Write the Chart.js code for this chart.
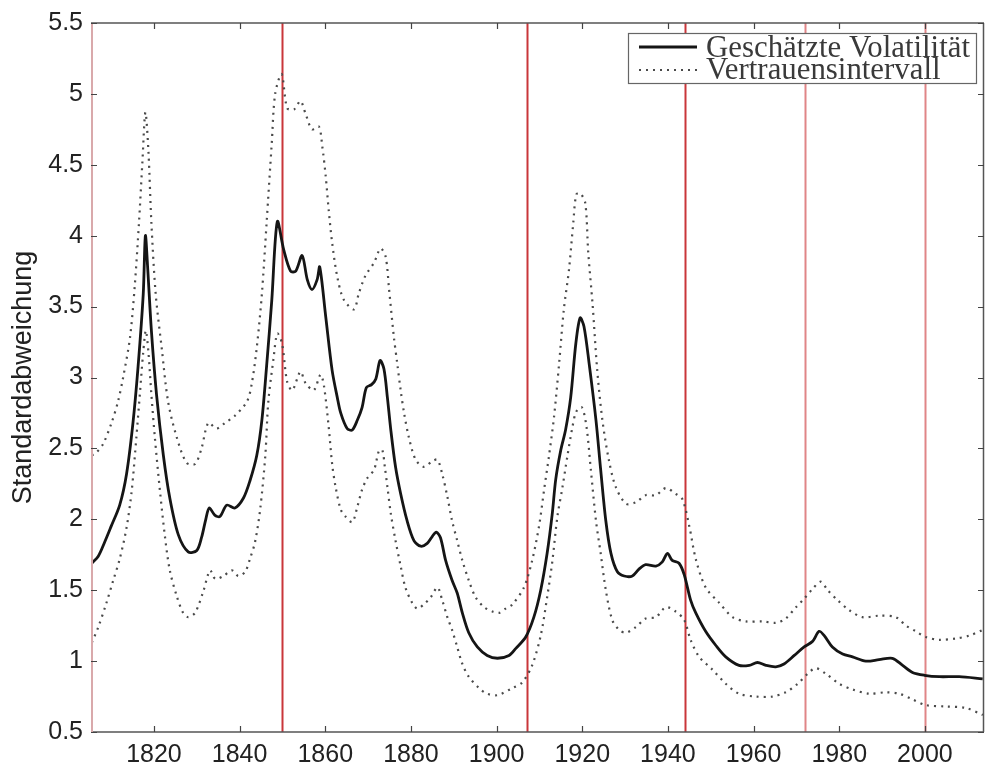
<!DOCTYPE html>
<html>
<head>
<meta charset="utf-8">
<script src="https://cdn.jsdelivr.net/npm/chart.js@4"></script>
<style>
  html, body { margin: 0; padding: 0; background: #fff; }
  #wrap { width: 985px; height: 767px; position: relative; }
</style>
</head>
<body>
<div id="wrap"><canvas id="c"></canvas></div>
<script>
// ---------------- DATA ----------------
const seriesLabels = ["Geschätzte Volatilität", "Vertrauensintervall"];
const yAxisTitle = "Standardabweichung";

const volYears = [1805.5,1807,1808.5,1810,1812,1813.6,1815.1,1816.3,1817.5,1818.0,1818.5,1819.4,1820.6,1822.2,1823.7,1825.7,1828,1830,1831.1,1832.1,1832.9,1834.2,1835.4,1837,1838.9,1840.9,1842.4,1844,1845.2,1846.3,1847.5,1848.8,1850.3,1851.9,1853.1,1854.6,1855.8,1856.9,1858.1,1858.7,1860.1,1861.6,1862.8,1863.6,1865.1,1866.3,1867.5,1868.6,1869.6,1870.8,1871.8,1872.8,1873.7,1874.5,1875.3,1876.4,1877.6,1879.1,1880.7,1882.3,1883.8,1885,1885.9,1886.9,1888.1,1889.6,1890.8,1892,1893.5,1895.5,1897.8,1900.2,1902.9,1904.5,1906.8,1908.7,1910.3,1911.8,1913,1913.8,1915,1916.1,1917.3,1918.5,1919.5,1920.4,1921.6,1923.2,1924.3,1925.5,1926.7,1928.2,1929.8,1931.7,1933.3,1934.8,1937.2,1938.7,1939.9,1941,1942.6,1943.8,1945.3,1946.5,1948.8,1951.2,1953.5,1956.6,1959,1960.9,1962.9,1965.2,1967.1,1969.5,1971.8,1973.8,1975.3,1976.5,1978.4,1980.8,1983.1,1986.2,1989.3,1992.4,1994.8,1997.1,1999.9,2003.4,2008,2013.5];
const volValues = [1.69,1.74,1.84,1.95,2.10,2.32,2.68,3.08,3.59,4.00,3.79,3.33,2.88,2.45,2.15,1.89,1.77,1.78,1.87,2.00,2.08,2.03,2.02,2.10,2.08,2.15,2.27,2.45,2.70,3.08,3.54,4.10,3.90,3.75,3.75,3.86,3.69,3.62,3.69,3.78,3.43,3.05,2.86,2.75,2.64,2.63,2.70,2.79,2.93,2.95,2.99,3.12,3.06,2.86,2.63,2.37,2.18,1.99,1.85,1.81,1.83,1.88,1.91,1.87,1.71,1.57,1.48,1.34,1.20,1.10,1.04,1.02,1.04,1.09,1.17,1.31,1.50,1.76,2.04,2.28,2.49,2.63,2.86,3.24,3.42,3.36,3.10,2.70,2.35,1.99,1.76,1.63,1.60,1.60,1.65,1.68,1.67,1.70,1.76,1.71,1.69,1.61,1.43,1.34,1.21,1.11,1.03,0.97,0.97,0.99,0.97,0.96,0.98,1.04,1.10,1.14,1.21,1.18,1.10,1.05,1.03,1.00,1.01,1.02,0.97,0.92,0.90,0.89,0.89,0.875];

const upperYears = [1805.5,1806.5,1808.1,1810.1,1811.6,1812.8,1814.4,1815.5,1816.5,1817.3,1818,1818.7,1819.4,1820.4,1821.8,1823.3,1825.3,1827.6,1829.6,1831.1,1832.7,1834.6,1836.6,1838.9,1841.7,1842.8,1844,1845.2,1846.3,1847.5,1848.3,1849.8,1851.1,1852.7,1854.2,1855.4,1856.9,1858.5,1859.3,1860.1,1860.8,1861.6,1862.8,1864.3,1866.7,1867.8,1869.4,1871.4,1872.9,1874.1,1874.9,1876,1876.8,1877.6,1878.4,1879.5,1881.1,1883,1885,1886.2,1887.3,1888.5,1889.6,1890.8,1892,1893.5,1895.1,1897.1,1899,1900.6,1902.1,1903.7,1906.4,1908.3,1909.9,1911.1,1912.2,1913.4,1914.6,1915.7,1916.9,1917.9,1918.6,1919.5,1920.7,1921.4,1922.4,1923.5,1924.7,1926.2,1927.8,1930.2,1932.5,1934.8,1937.2,1939.5,1941.8,1943.4,1945,1946.5,1948.8,1952,1955.1,1958.2,1962.1,1965.2,1967.5,1969.9,1971.8,1973.8,1975.7,1977.3,1979.6,1982.3,1985.4,1989.3,1993.2,1995.6,1997.9,2000.2,2003.4,2007.3,2010.4,2013.5];
const upperValues = [2.45,2.47,2.53,2.68,2.83,3.00,3.28,3.64,4.09,4.52,4.87,4.60,4.09,3.59,3.21,2.83,2.58,2.40,2.39,2.50,2.68,2.64,2.68,2.73,2.83,2.95,3.21,3.59,4.09,4.65,5.00,5.14,4.90,4.89,4.95,4.86,4.75,4.77,4.63,4.42,4.18,3.95,3.71,3.55,3.48,3.59,3.72,3.81,3.91,3.85,3.62,3.29,3.10,2.91,2.75,2.58,2.42,2.37,2.41,2.42,2.32,2.16,1.99,1.85,1.71,1.57,1.45,1.38,1.35,1.34,1.37,1.40,1.52,1.71,1.95,2.21,2.44,2.72,3.10,3.48,3.76,4.09,4.29,4.30,4.23,3.88,3.52,3.05,2.70,2.42,2.23,2.11,2.12,2.17,2.17,2.22,2.18,2.14,1.95,1.72,1.52,1.41,1.31,1.28,1.28,1.27,1.30,1.38,1.44,1.51,1.56,1.50,1.43,1.36,1.31,1.32,1.31,1.25,1.21,1.17,1.15,1.16,1.18,1.22];

const lowerYears = [1805.5,1807,1808.9,1810.5,1812,1813.6,1814.8,1815.9,1816.7,1817.5,1818.1,1818.7,1819.4,1820.2,1821.4,1822.6,1823.7,1825.3,1826.8,1828,1829.6,1831.5,1833.1,1834.3,1836.2,1838.2,1839.7,1841.3,1842.4,1843.6,1844.8,1846,1846.7,1847.9,1848.8,1849.9,1851.1,1852.3,1854.2,1855.4,1857.3,1858.9,1859.7,1860.8,1861.6,1862.4,1863.6,1864.7,1866.3,1867.5,1868.6,1869.8,1871.4,1872.5,1873.3,1873.9,1874.5,1875.3,1876.4,1877.6,1878.7,1880.3,1881.5,1883,1884.6,1886.2,1887.3,1888.5,1889.6,1890.8,1892,1893.5,1895.9,1897.8,1900.2,1903.7,1906,1908.3,1910.3,1911.8,1913,1914.2,1915.4,1916.5,1917.7,1918.6,1919.9,1921,1922,1923.2,1924.3,1925.5,1927,1928.6,1930.2,1932.5,1934.8,1937.2,1939.5,1941.8,1943.8,1945.3,1947.3,1950.4,1953.5,1956.6,1960.5,1964.4,1967.5,1970.3,1972.6,1974.5,1976.9,1980,1983.1,1987,1990.9,1994,1997.1,2000.2,2004.9,2009.5,2013.5];
const lowerValues = [1.13,1.24,1.41,1.57,1.72,1.94,2.20,2.58,2.88,3.18,3.33,3.18,2.88,2.58,2.20,1.87,1.64,1.46,1.34,1.31,1.34,1.49,1.64,1.58,1.60,1.64,1.60,1.63,1.72,1.84,2.07,2.45,2.83,3.13,3.31,3.24,2.97,2.91,3.04,2.96,2.91,3.02,2.94,2.65,2.39,2.23,2.07,2.02,1.98,2.09,2.21,2.29,2.35,2.48,2.49,2.37,2.23,2.04,1.85,1.67,1.52,1.41,1.37,1.40,1.45,1.52,1.43,1.31,1.22,1.10,0.98,0.89,0.81,0.77,0.76,0.81,0.85,0.97,1.18,1.45,1.70,2.02,2.23,2.44,2.65,2.76,2.79,2.65,2.35,1.99,1.76,1.50,1.29,1.22,1.20,1.24,1.30,1.31,1.38,1.35,1.29,1.15,1.03,0.94,0.84,0.77,0.75,0.75,0.78,0.84,0.91,0.95,0.91,0.84,0.80,0.77,0.78,0.77,0.73,0.69,0.68,0.67,0.62];

const eventYears = [1850, 1907, 1944, 1972, 2000];
const xTickValues = [1820, 1840, 1860, 1880, 1900, 1920, 1940, 1960, 1980, 2000];
const yTickValues = [0.5, 1, 1.5, 2, 2.5, 3, 3.5, 4, 4.5, 5, 5.5];
const xMin = 1805.3, xMax = 2013.8, yMin = 0.5, yMax = 5.5;

// ---------------- STYLE ----------------
const eventColors = ["#c9363a", "#c9363a", "#c9363a", "#e08587", "#e08587"];
const sansFont = "'Liberation Sans', Arial, sans-serif";
const serifFont = "'Liberation Serif', 'DejaVu Serif', serif";
const dotDash = [2, 5];

const toPts = (xs, ys) => xs.map((x, i) => ({ x: x, y: ys[i] }));

const boxPlugin = {
  id: 'boxPlugin',
  beforeDatasetsDraw(chart) {
    const { ctx, chartArea: a, scales: { x } } = chart;
    ctx.save();
    ctx.lineWidth = 2;
    eventYears.forEach((yr, i) => {
      const px = Math.round(x.getPixelForValue(yr)) + 0.5;
      ctx.strokeStyle = eventColors[i];
      ctx.beginPath();
      ctx.moveTo(px, a.top);
      ctx.lineTo(px, a.bottom);
      ctx.stroke();
    });
    ctx.restore();
  },
  afterDatasetsDraw(chart) {
    const { ctx, chartArea: a, scales: { x, y } } = chart;
    ctx.save();
    // frame
    ctx.lineWidth = 1.5;
    ctx.strokeStyle = '#555';
    ctx.beginPath();
    ctx.moveTo(a.left, a.top); ctx.lineTo(a.right, a.top);
    ctx.moveTo(a.right - 0.5, a.top); ctx.lineTo(a.right - 0.5, a.bottom);
    ctx.moveTo(a.left, a.bottom); ctx.lineTo(a.right, a.bottom);
    ctx.stroke();
    ctx.lineWidth = 2;
    ctx.strokeStyle = '#d9a9ab';
    ctx.beginPath();
    ctx.moveTo(a.left + 1, a.top); ctx.lineTo(a.left + 1, a.bottom);
    ctx.stroke();
    // inward ticks
    const tl = 6;
    ctx.lineWidth = 1.2;
    ctx.strokeStyle = '#444';
    ctx.beginPath();
    xTickValues.forEach(v => {
      const px = Math.round(x.getPixelForValue(v)) + 0.5;
      ctx.moveTo(px, a.bottom); ctx.lineTo(px, a.bottom - tl);
      ctx.moveTo(px, a.top); ctx.lineTo(px, a.top + tl);
    });
    yTickValues.forEach(v => {
      const py = Math.round(y.getPixelForValue(v)) + 0.5;
      ctx.moveTo(a.left, py); ctx.lineTo(a.left + tl, py);
      ctx.moveTo(a.right, py); ctx.lineTo(a.right - tl, py);
    });
    ctx.stroke();

    // legend
    const bx = 628, by = 33, bw = 348, bh = 50;
    ctx.fillStyle = '#fff';
    ctx.fillRect(bx, by, bw, bh);
    ctx.lineWidth = 1.2;
    ctx.strokeStyle = '#666';
    ctx.strokeRect(bx + 0.5, by + 0.5, bw, bh);
    const ds = chart.data.datasets;
    const rows = [{ y: 47, ds: ds[0] }, { y: 70, ds: ds[1] }];
    rows.forEach(r => {
      ctx.strokeStyle = r.ds.borderColor;
      ctx.lineWidth = r.ds.borderWidth;
      ctx.setLineDash(r.ds.borderDash || []);
      ctx.beginPath();
      ctx.moveTo(639, r.y); ctx.lineTo(697, r.y);
      ctx.stroke();
      ctx.setLineDash([]);
    });
    ctx.fillStyle = '#3a3a3a';
    ctx.textBaseline = 'middle';
    ctx.textAlign = 'left';
    let fs = 26;
    ctx.font = fs + 'px ' + serifFont;
    const w = ctx.measureText(seriesLabels[0]).width;
    fs = fs * 264 / w;
    ctx.font = fs + 'px ' + serifFont;
    ctx.fillText(seriesLabels[0], 706, 49);
    ctx.fillText(seriesLabels[1], 706, 71);
    ctx.restore();
  }
};

new Chart(document.getElementById('c'), {
  type: 'line',
  data: {
    datasets: [
      { label: seriesLabels[0], data: toPts(volYears, volValues), borderColor: '#151515', borderWidth: 2.8, pointRadius: 0, tension: 0.3, borderJoinStyle: 'round' },
      { label: seriesLabels[1], data: toPts(upperYears, upperValues), borderColor: '#4a4a4a', borderWidth: 2.2, borderDash: dotDash, pointRadius: 0, tension: 0.3 },
      { label: seriesLabels[1] + ' (unten)', data: toPts(lowerYears, lowerValues), borderColor: '#4a4a4a', borderWidth: 2.2, borderDash: dotDash, pointRadius: 0, tension: 0.3 }
    ]
  },
  options: {
    responsive: true,
    maintainAspectRatio: false,
    animation: false,
    layout: { padding: { top: 23, right: 1, left: 0, bottom: 0 } },
    plugins: { legend: { display: false }, tooltip: { enabled: false } },
    scales: {
      x: {
        type: 'linear', min: xMin, max: xMax,
        afterBuildTicks: s => { s.ticks = xTickValues.map(v => ({ value: v })); },
        afterFit: s => { s.height = 35; },
        grid: { display: false, drawTicks: false },
        border: { display: false },
        ticks: { padding: 8, color: '#222', font: { family: sansFont, size: 25 }, callback: v => String(v), maxRotation: 0, autoSkip: false }
      },
      y: {
        min: yMin, max: yMax,
        afterBuildTicks: s => { s.ticks = yTickValues.map(v => ({ value: v })); },
        afterFit: s => { s.width = 91; },
        grid: { display: false, drawTicks: false },
        border: { display: false },
        ticks: { padding: 8, color: '#222', font: { family: sansFont, size: 25 }, callback: v => String(v) },
        title: { display: true, text: yAxisTitle, color: '#222', padding: { top: 7, bottom: 0 }, font: { family: sansFont, size: 27, lineHeight: 1.2 } }
      }
    }
  },
  plugins: [boxPlugin]
});
</script>
</body>
</html>
